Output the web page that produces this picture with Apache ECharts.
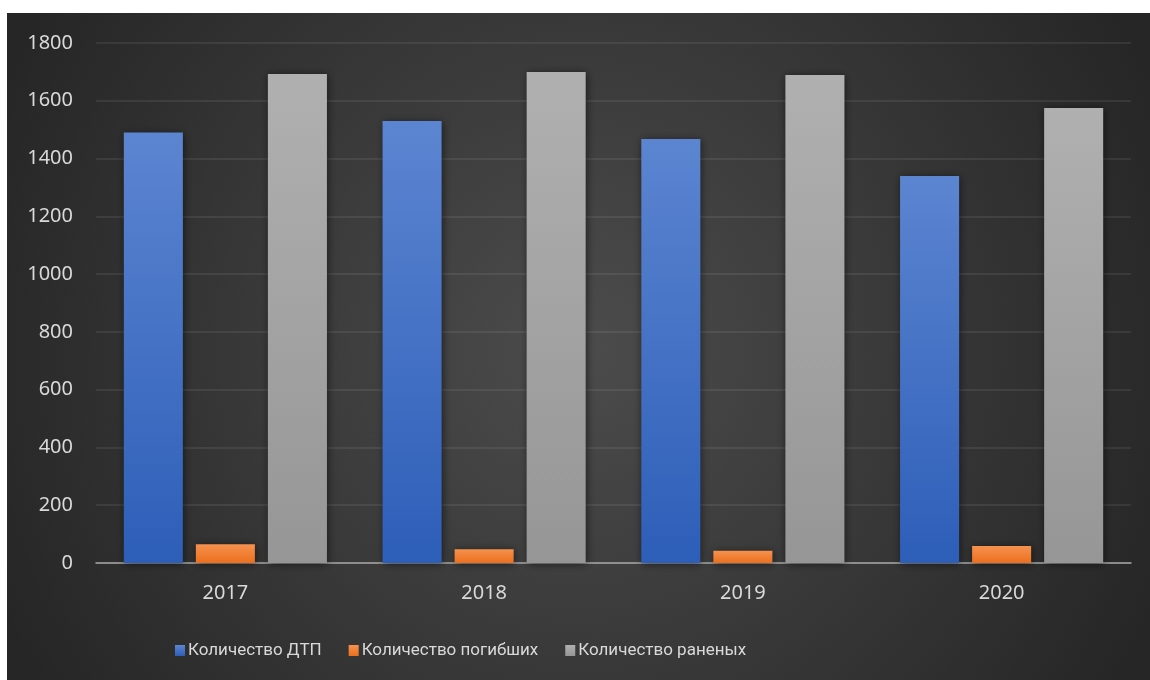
<!DOCTYPE html>
<html>
<head>
<meta charset="utf-8">
<script src="https://cdn.jsdelivr.net/npm/echarts@6/dist/echarts.min.js"></script>
<style>
html,body{margin:0;padding:0;background:#fff;}
#chart{width:1150px;height:680px;}
</style>
</head>
<body>
<div id="chart"></div>
<script>
const categories = ['2017', '2018', '2019', '2020'];
const seriesNames = ['Количество ДТП', 'Количество погибших', 'Количество раненых'];
const accidents = [1490, 1530, 1468, 1340];
const deaths = [65, 48, 42, 59];
const injured = [1693, 1700, 1689, 1575];
const yTicks = [0, 200, 400, 600, 800, 1000, 1200, 1400, 1600, 1800];

const chart = echarts.init(document.getElementById('chart'), null, {renderer: 'canvas'});
const font = "'Noto Sans', 'DejaVu Sans', sans-serif";
const legendFont = "Roboto, 'Noto Sans', sans-serif";
function grad(top, bottom) {
  return new echarts.graphic.LinearGradient(0, 0, 0, 1, [
    {offset: 0, color: top}, {offset: 1, color: bottom}
  ]);
}
const barShadow = {shadowBlur: 8, shadowColor: 'rgba(0,0,0,0.55)', shadowOffsetX: 1, shadowOffsetY: 1};
chart.setOption({
  backgroundColor: '#ffffff',
  animation: false,
  graphic: [{
    type: 'rect', z: -10, silent: true,
    shape: {x: 7, y: 13, width: 1143, height: 667},
    style: {
      fill: {
        type: 'radial', x: 0.5, y: 0.5, r: 0.95,
        colorStops: [{offset: 0, color: '#4c4c4c'}, {offset: 1, color: '#262626'}]
      }
    }
  }],
  grid: {left: 96, right: 19, top: 43, bottom: 117, containLabel: false},
  legend: {
    data: seriesNames,
    top: 637,
    left: 170,
    icon: 'rect',
    itemWidth: 10,
    itemHeight: 11,
    itemGap: 27,
    textStyle: {color: '#d9d9d9', fontSize: 17, fontFamily: legendFont, padding: [0, 0, 0, -2]}
  },
  xAxis: {
    type: 'category',
    data: categories,
    axisLine: {show: true, lineStyle: {color: '#a6a6a6', width: 1.5}},
    axisTick: {show: false},
    axisLabel: {color: '#d9d9d9', fontSize: 20, fontFamily: font, margin: 20}
  },
  yAxis: {
    type: 'value',
    min: yTicks[0],
    max: yTicks[yTicks.length - 1],
    interval: yTicks[1] - yTicks[0],
    axisLine: {show: false},
    axisTick: {show: false},
    axisLabel: {color: '#d9d9d9', fontSize: 20, fontFamily: font, margin: 23, formatter: v => String(v)},
    splitLine: {lineStyle: {color: 'rgba(255,255,255,0.1)', width: 1.5}}
  },
  series: [
    {name: seriesNames[0], type: 'bar', data: accidents, barGap: '22%', barCategoryGap: '21.5%',
     itemStyle: Object.assign({color: grad('#5c85d1', '#2d5eb8')}, barShadow)},
    {name: seriesNames[1], type: 'bar', data: deaths,
     itemStyle: Object.assign({color: grad('#f5924f', '#ec6f1c')}, barShadow)},
    {name: seriesNames[2], type: 'bar', data: injured,
     itemStyle: Object.assign({color: grad('#b0b0b0', '#969696')}, barShadow)}
  ]
});
</script>
</body>
</html>
